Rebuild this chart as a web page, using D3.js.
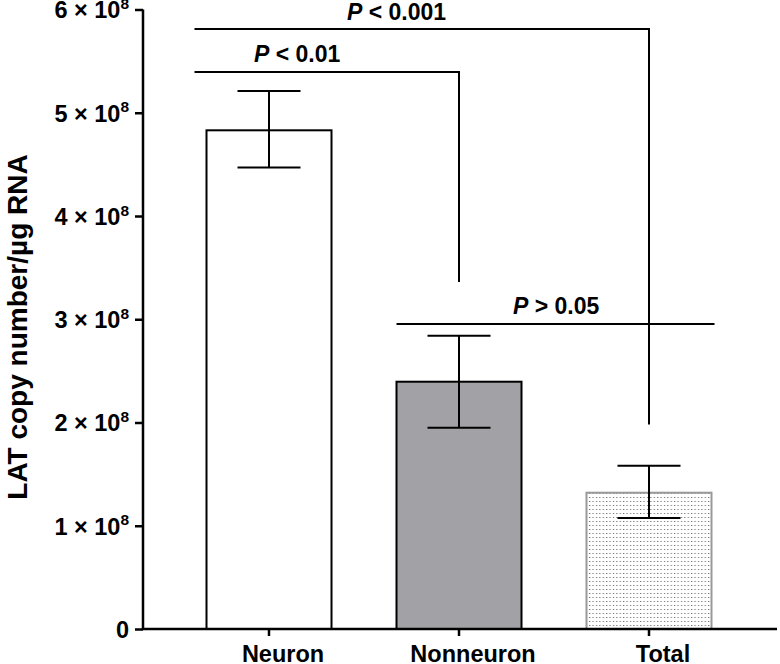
<!DOCTYPE html>
<html>
<head>
<meta charset="utf-8">
<script src="https://cdn.jsdelivr.net/npm/d3@7"></script>
<style>
  body { margin: 0; background: #fff; }
  text { font-family: "Liberation Sans", Arial, sans-serif; font-weight: bold; fill: #000; }
</style>
</head>
<body>
<svg id="chart" width="780" height="664"></svg>
<script>
const categories = ["Neuron", "Nonneuron", "Total"];
const means = [4.83e8, 2.395e8, 1.32e8];
const errUpper = [5.21e8, 2.84e8, 1.58e8];
const errLower = [4.47e8, 1.95e8, 1.075e8];
const yTicks = [0, 1e8, 2e8, 3e8, 4e8, 5e8, 6e8];

// significance brackets: level (value), label, comparison, where the drop ends
const sigLabels = ["P < 0.001", "P < 0.01", "P > 0.05"];
const sigLevels = [5.81e8, 5.395e8, 2.955e8];
const sigTargets = ["Total", "Nonneuron", null];
const sigDropTo = [1.98e8, 3.36e8, null];

const svg = d3.select("#chart");

const y = d3.scaleLinear().domain([0, 6e8]).range([629, 9.5]);
const x = d3.scaleBand()
    .domain(categories)
    .range([206.5, 711.5])
    .paddingInner(65 / 190)
    .paddingOuter(0);
const bw = x.bandwidth();
const cx = c => x(c) + bw / 2;

// dot pattern for Total
const defs = svg.append("defs");
const pat = defs.append("pattern")
    .attr("id", "dots")
    .attr("patternUnits", "userSpaceOnUse")
    .attr("width", 3.4)
    .attr("height", 4);
pat.append("rect").attr("width", 3.4).attr("height", 4).attr("fill", "#fff");
pat.append("rect").attr("x", 1).attr("y", 1).attr("width", 1).attr("height", 1).attr("fill", "#555");

const fills = ["#fff", "#a2a2a6", "url(#dots)"];
const strokes = ["#000", "#000", "#999"];

// bars
svg.append("g")
    .selectAll("rect")
    .data(categories)
    .join("rect")
    .attr("x", d => x(d))
    .attr("y", (d, i) => y(means[i]))
    .attr("width", bw)
    .attr("height", (d, i) => y(0) - y(means[i]))
    .attr("fill", (d, i) => fills[i])
    .attr("stroke", (d, i) => strokes[i])
    .attr("stroke-width", 2);

// error bars
const eb = svg.append("g").attr("stroke", "#000").attr("stroke-width", 2);
categories.forEach((c, i) => {
    const m = cx(c);
    eb.append("line").attr("x1", m).attr("x2", m).attr("y1", y(errUpper[i])).attr("y2", y(errLower[i]));
    eb.append("line").attr("x1", m - 31.5).attr("x2", m + 31.5).attr("y1", y(errUpper[i])).attr("y2", y(errUpper[i]));
    eb.append("line").attr("x1", m - 31.5).attr("x2", m + 31.5).attr("y1", y(errLower[i])).attr("y2", y(errLower[i]));
});

// significance brackets
const sg = svg.append("g");
const leftEnd = x("Neuron") - 12;
const textStart = [347, 254, 513];
sigLabels.forEach((lab, i) => {
    const yy = y(sigLevels[i]);
    let x1, x2;
    if (sigTargets[i]) {
        x1 = leftEnd;
        x2 = cx(sigTargets[i]);
        sg.append("path")
            .attr("d", `M${x1},${yy}H${x2}V${y(sigDropTo[i])}`)
            .attr("fill", "none")
            .attr("stroke", "#000")
            .attr("stroke-width", 2);
    } else {
        x1 = x("Nonneuron");
        x2 = x("Total") + bw + 3;
        sg.append("line")
            .attr("x1", x1).attr("x2", x2).attr("y1", yy).attr("y2", yy)
            .attr("stroke", "#000").attr("stroke-width", 2);
    }
    const t = sg.append("text")
        .attr("x", textStart[i])
        .attr("y", yy - 9.5)
        .style("font-size", "23px");
    t.append("tspan").style("font-style", "italic").text("P");
    t.append("tspan").text(lab.slice(1));
});

// y axis
const yAxis = svg.append("g")
    .attr("transform", "translate(143,0)")
    .call(d3.axisLeft(y).tickValues(yTicks).tickSize(8).tickFormat(""));
yAxis.select(".domain").attr("stroke-width", 2.5).attr("d", `M0,${y(6e8)}V${y(0)}`);
yAxis.selectAll(".tick line").attr("stroke-width", 2.5);
yAxis.selectAll(".tick").each(function (d) {
    const t = d3.select(this).append("text")
        .attr("x", -14)
        .attr("dy", "0.36em")
        .attr("text-anchor", "end")
        .style("font-size", "23.5px");
    if (d === 0) {
        t.text("0");
    } else {
        t.append("tspan").text((d / 1e8) + " \u00d7 10");
        t.append("tspan").attr("dy", "-0.6em").style("font-size", "15.5px").text("8");
    }
});

// x axis
const xAxis = svg.append("g")
    .attr("transform", `translate(0,${y(0)})`)
    .call(d3.axisBottom(x).tickSize(7).tickFormat(""));
xAxis.select(".domain").attr("stroke-width", 2.5).attr("d", `M141.75,0H777`);
xAxis.selectAll(".tick line").attr("stroke-width", 2.5);
xAxis.selectAll(".tick").append("text")
    .attr("x", 14)
    .attr("y", 32.5)
    .attr("text-anchor", "middle")
    .style("font-size", "23.5px")
    .text(d => d);

// y label
svg.append("text")
    .attr("transform", "translate(27,327) rotate(-90)")
    .attr("text-anchor", "middle")
    .style("font-size", "28px")
    .text("LAT copy number/\u00b5g RNA");
</script>
</body>
</html>
